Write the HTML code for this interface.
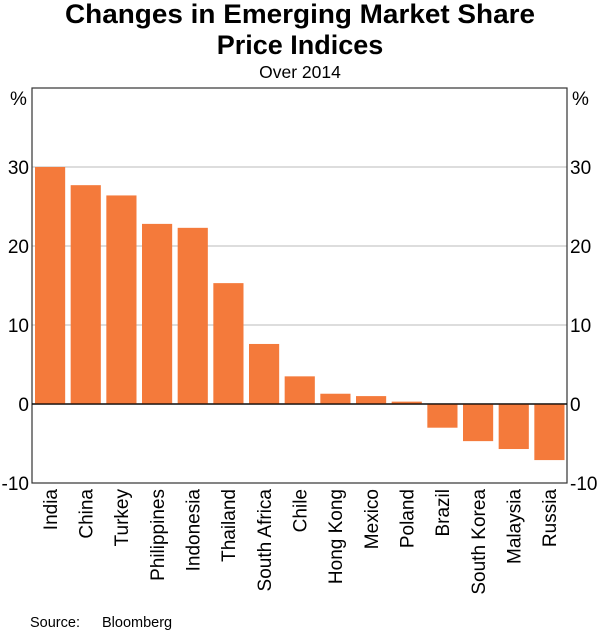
<!DOCTYPE html>
<html><head><meta charset="utf-8"><style>
body{margin:0;background:#fff;font-family:"Liberation Sans",Arial,sans-serif}
</style></head><body>
<svg width="600" height="631" viewBox="0 0 600 631" xmlns="http://www.w3.org/2000/svg" font-family="Liberation Sans, Arial, sans-serif">
<text x="300" y="23" text-anchor="middle" font-size="27" font-weight="bold" fill="#000" textLength="470" lengthAdjust="spacingAndGlyphs">Changes in Emerging Market Share</text>
<text x="300" y="54" text-anchor="middle" font-size="27" font-weight="bold" fill="#000">Price Indices</text>
<text x="300" y="78" text-anchor="middle" font-size="17.5" fill="#000">Over 2014</text>
<g id="grid"></g>
<g id="bars"></g>
<rect x="32" y="88" width="535" height="395" fill="none" stroke="#333" stroke-width="1.2"/>
<text x="10" y="105" font-size="19">%</text>
<text x="572" y="105" font-size="19">%</text>
<g id="ticks" font-size="19"></g>
<g id="cats" font-size="19"></g>
<text x="30" y="627" font-size="14.5">Source:</text>
<text x="102" y="627" font-size="14.5">Bloomberg</text>
</svg>
<script>
const categories=["India","China","Turkey","Philippines","Indonesia","Thailand","South Africa","Chile","Hong Kong","Mexico","Poland","Brazil","South Korea","Malaysia","Russia"];
const values=[30,27.7,26.4,22.8,22.3,15.3,7.6,3.5,1.3,1.0,0.3,-3.0,-4.7,-5.7,-7.1];
const tickValues=[-10,0,10,20,30];
const tickLabels=["-10","0","10","20","30"];
const NS="http://www.w3.org/2000/svg";
const L=32,R=567,T=88,B=483,ymin=-10,ymax=40;
const y=v=>B-(v-ymin)/(ymax-ymin)*(B-T);
const slot=(R-L)/categories.length;
const x=i=>L+i*slot;
function mk(t,a,p){const e=document.createElementNS(NS,t);for(const k in a)e.setAttribute(k,a[k]);p.appendChild(e);return e;}
const grid=document.getElementById('grid'),bars=document.getElementById('bars'),ticks=document.getElementById('ticks'),cats=document.getElementById('cats');
tickValues.forEach((v,i)=>{
 if(v>ymin){const g=mk('line',{x1:L,x2:R,y1:y(v),y2:y(v),stroke:v===0?'#000':'#bbb','stroke-width':v===0?1.2:1},grid);
 
 }
 const a=mk('text',{x:L-3,y:y(v)+7,'text-anchor':'end'},ticks);a.textContent=tickLabels[i];
 
 
 const b=mk('text',{x:R+3,y:y(v)+7,'text-anchor':'start'},ticks);b.textContent=tickLabels[i];
 
 
});
categories.forEach((c,i)=>{
 const v=values[i],y0=y(0),yv=y(v);
 const r=mk('rect',{x:x(i)+3,width:slot-5.5,y:Math.min(y0,yv),height:Math.abs(yv-y0),fill:'#f47a3b'},bars);
 
 
 const cx=x(i)+slot/2+7;
 const t=mk('text',{x:cx,y:489,'text-anchor':'end',transform:`rotate(-90 ${cx} 489)`},cats);t.textContent=c;
 
 
});
mk('line',{x1:L,x2:R,y1:y(0),y2:y(0),stroke:'#000','stroke-width':1.2},document.querySelector('svg'));
</script>
</body></html>
